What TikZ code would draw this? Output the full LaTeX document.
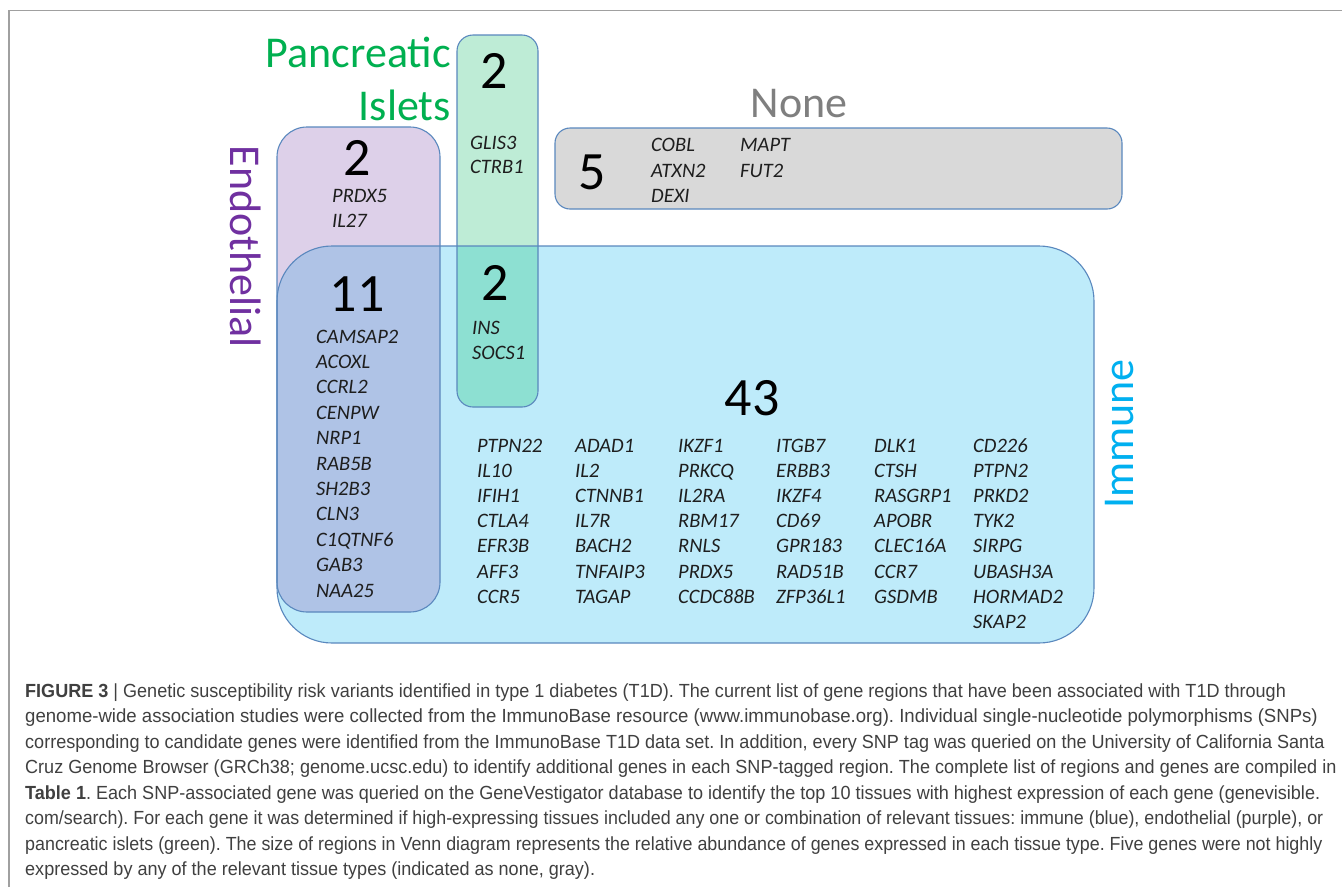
\documentclass[tikz,border=0pt]{standalone}
\usepackage{fontspec}
\setmainfont{Carlito}
\newfontfamily\capfont[FakeStretch=0.95]{Liberation Sans}
\definecolor{immfill}{HTML}{BEEBFA}
\definecolor{endofill}{HTML}{DDD0E9}
\definecolor{isletfill}{HTML}{BEECD6}
\definecolor{nonefill}{HTML}{D9D9D9}
\definecolor{ovEI}{HTML}{AFC3E6}
\definecolor{ovII}{HTML}{8DE0D2}
\definecolor{boxline}{HTML}{5A88BE}
\definecolor{framecol}{HTML}{A0A0A0}
\definecolor{genetext}{HTML}{1E1E1E}
\definecolor{captext}{HTML}{404040}
\definecolor{labgreen}{HTML}{00B050}
\definecolor{labpurple}{HTML}{7030A0}
\definecolor{labgray}{HTML}{7F7F7F}
\definecolor{labblue}{HTML}{00B0F0}
\frenchspacing
\begin{document}
\begin{tikzpicture}[x=1pt,y=-1pt,
  box/.style={draw=boxline, line width=1.1pt},
  gene/.style={anchor=base west, inner sep=0pt, font=\fontsize{20.5}{24}\selectfont\itshape, text=genetext},
  num/.style={anchor=base, inner sep=0pt, font=\fontsize{54}{60}\selectfont, text=black},
  lab/.style={inner sep=0pt, font=\fontsize{44}{50}\selectfont},
  capline/.style={anchor=base west, inner sep=0pt, font=\capfont\fontsize{19}{22}\selectfont, text=captext}]
\useasboundingbox (0,0) rectangle (1342,887);
\fill[white] (0,0) rectangle (1342,887);
\draw[framecol, line width=1.5pt] (9,887) -- (9,10.5) -- (1342,10.5);

% fills
\fill[nonefill, rounded corners=15] (555,128) rectangle (1122,209);
\fill[immfill, rounded corners=55] (277,246) rectangle (1094,643);
\fill[endofill, rounded corners=30] (277,127) rectangle (440,612);
\fill[isletfill, rounded corners=16] (457,35) rectangle (538,407);
\begin{scope}
  \clip[rounded corners=55] (277,246) rectangle (1094,643);
  \fill[ovEI, rounded corners=30] (277,127) rectangle (440,612);
  \fill[ovII, rounded corners=16] (457,35) rectangle (538,407);
\end{scope}
% borders
\draw[box, rounded corners=15] (555,128) rectangle (1122,209);
\draw[box, rounded corners=55] (277,246) rectangle (1094,643);
\draw[box, rounded corners=30] (277,127) rectangle (440,612);
\draw[box, rounded corners=16] (457,35) rectangle (538,407);

% labels
\node[lab, anchor=base east, text=labgreen] (labPanc) at (451,67) {Pancreatic};
\node[lab, anchor=base east, text=labgreen] (labIsl) at (451,120) {Islets};
\node[lab, anchor=base, text=labgray] (labNone) at (799,117) {None};
\node[lab, rotate=-90, text=labpurple] (labEndo) at (246,247) {Endothelial};
\node[lab, rotate=90, text=labblue] (labImm) at (1120,434) {Immune};

% counts
\node[num] (nIsl) at (494,88) {2};
\node[num] (nEndo) at (357,175) {2};
\node[num] (nEI) at (357,311) {11};
\node[num] (nII) at (495,300) {2};
\node[num] (nImm) at (752,415) {43};
\node[num] (nNone) at (592,189) {5};

% genes
\node[gene] (gGLIS3) at (470,149) {GLIS3};
\node[gene] (gCTRB1) at (470,173) {CTRB1};
\node[gene] (gPRDX5e) at (332,202) {PRDX5};
\node[gene] (gIL27) at (332,227) {IL27};
\node[gene] (gINS) at (472,334) {INS};
\node[gene] (gSOCS1) at (472,359) {SOCS1};
\node[gene] (gCOBL) at (651,151) {COBL};
\node[gene] (gATXN2) at (651,177) {ATXN2};
\node[gene] (gDEXI) at (651,202) {DEXI};
\node[gene] (gMAPT) at (740,151) {MAPT};
\node[gene] (gFUT2) at (740,177) {FUT2};
\foreach \g [count=\r from 0] in {CAMSAP2,ACOXL,CCRL2,CENPW,NRP1,RAB5B,SH2B3,CLN3,C1QTNF6,GAB3,NAA25}
  \node[gene] (ei-\r) at (316,343+25.4*\r) {\g};
\foreach \g [count=\r from 0] in {PTPN22,IL10,IFIH1,CTLA4,EFR3B,AFF3,CCR5}
  \node[gene] (ca-\r) at (477,452+25.2*\r) {\g};
\foreach \g [count=\r from 0] in {ADAD1,IL2,CTNNB1,IL7R,BACH2,TNFAIP3,TAGAP}
  \node[gene] (cb-\r) at (575,452+25.2*\r) {\g};
\foreach \g [count=\r from 0] in {IKZF1,PRKCQ,IL2RA,RBM17,RNLS,PRDX5,CCDC88B}
  \node[gene] (cc-\r) at (678,452+25.2*\r) {\g};
\foreach \g [count=\r from 0] in {ITGB7,ERBB3,IKZF4,CD69,GPR183,RAD51B,ZFP36L1}
  \node[gene] (cd-\r) at (776,452+25.2*\r) {\g};
\foreach \g [count=\r from 0] in {DLK1,CTSH,RASGRP1,APOBR,CLEC16A,CCR7,GSDMB}
  \node[gene] (ce-\r) at (874,452+25.2*\r) {\g};
\foreach \g [count=\r from 0] in {CD226,PTPN2,PRKD2,TYK2,SIRPG,UBASH3A,HORMAD2,SKAP2}
  \node[gene] (cf-\r) at (973,452+25.2*\r) {\g};

% caption
\node[capline] (cap1) at (25,697) {\textbf{FIGURE 3} | Genetic susceptibility risk variants identified in type 1 diabetes (T1D). The current list of gene regions that have been associated with T1D through};
\node[capline, xscale=1.03] (cap2) at (25,722.5) {genome-wide association studies were collected from the ImmunoBase resource (www.immunobase.org). Individual single-nucleotide polymorphisms (SNPs)};
\node[capline] (cap3) at (25,748) {corresponding to candidate genes were identified from the ImmunoBase T1D data set. In addition, every SNP tag was queried on the University of California Santa};
\node[capline] (cap4) at (25,773.5) {Cruz Genome Browser (GRCh38; genome.ucsc.edu) to identify additional genes in each SNP-tagged region. The complete list of regions and genes are compiled in};
\node[capline] (cap5) at (25,799) {\textbf{Table 1}. Each SNP-associated gene was queried on the GeneVestigator database to identify the top 10 tissues with highest expression of each gene (genevisible.};
\node[capline, xscale=0.99] (cap6) at (25,824.5) {com/search). For each gene it was determined if high-expressing tissues included any one or combination of relevant tissues: immune (blue), endothelial (purple), or};
\node[capline, xscale=0.99] (cap7) at (25,850) {pancreatic islets (green). The size of regions in Venn diagram represents the relative abundance of genes expressed in each tissue type. Five genes were not highly};
\node[capline] (cap8) at (25,875.5) {expressed by any of the relevant tissue types (indicated as none, gray).};
\end{tikzpicture}
\end{document}
